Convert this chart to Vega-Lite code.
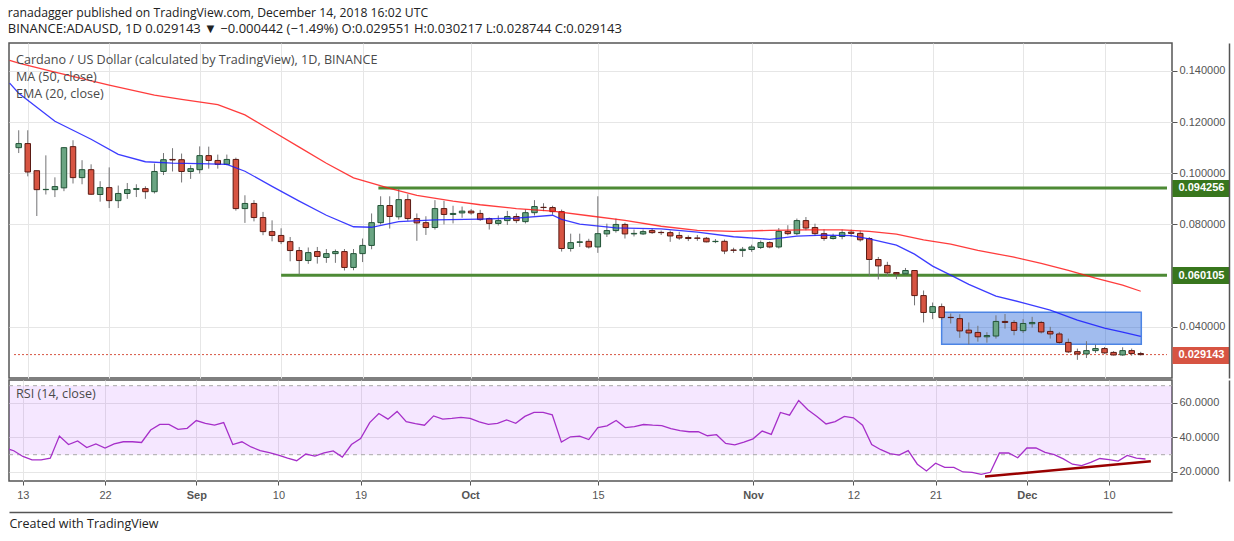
{
  "$schema": "https://vega.github.io/schema/vega-lite/v6.json",
  "padding": {"left": 7, "top": 7, "right": 0, "bottom": 0},
  "background": "white",
  "title": {
    "text": "ranadagger published on TradingView.com, December 14, 2018 16:02 UTC",
    "subtitle": "BINANCE:ADAUSD, 1D  0.029143 ▼ −0.000442 (−1.49%) O:0.029551 H:0.030217 L:0.028744 C:0.029143",
    "anchor": "start",
    "frame": "bounds",
    "offset": 6,
    "font": "Open Sans",
    "fontSize": 12.2,
    "fontWeight": "normal",
    "color": "#222222",
    "subtitleFont": "Open Sans",
    "subtitleFontSize": 13,
    "subtitleColor": "#222222",
    "subtitlePadding": 4
  },
  "spacing": 0,
  "resolve": {"scale": {"x": "independent", "y": "independent"}},
  "config": {
    "font": "Open Sans",
    "view": {"stroke": "#555555", "strokeWidth": 1.5},
    "axis": {"gridColor": "#e6e6e6", "gridWidth": 1}
  },
  "datasets": {
    "candles": [
      {"d": "2018-08-12", "o": 0.1100, "h": 0.1168, "l": 0.1079, "c": 0.1116},
      {"d": "2018-08-13", "o": 0.1116, "h": 0.1168, "l": 0.0988, "c": 0.1005},
      {"d": "2018-08-14", "o": 0.1010, "h": 0.1010, "l": 0.0833, "c": 0.0936},
      {"d": "2018-08-15", "o": 0.0936, "h": 0.1070, "l": 0.0917, "c": 0.0937},
      {"d": "2018-08-16", "o": 0.0936, "h": 0.0984, "l": 0.0907, "c": 0.0948},
      {"d": "2018-08-17", "o": 0.0943, "h": 0.1102, "l": 0.0930, "c": 0.1100},
      {"d": "2018-08-18", "o": 0.1104, "h": 0.1129, "l": 0.0960, "c": 0.0983},
      {"d": "2018-08-19", "o": 0.0983, "h": 0.1051, "l": 0.0957, "c": 0.1014},
      {"d": "2018-08-20", "o": 0.1014, "h": 0.1035, "l": 0.0916, "c": 0.0918},
      {"d": "2018-08-21", "o": 0.0917, "h": 0.0969, "l": 0.0889, "c": 0.0944},
      {"d": "2018-08-22", "o": 0.0944, "h": 0.1023, "l": 0.0864, "c": 0.0893},
      {"d": "2018-08-23", "o": 0.0893, "h": 0.0952, "l": 0.0864, "c": 0.0921},
      {"d": "2018-08-24", "o": 0.0921, "h": 0.0962, "l": 0.0900, "c": 0.0936},
      {"d": "2018-08-25", "o": 0.0937, "h": 0.0957, "l": 0.0907, "c": 0.0940},
      {"d": "2018-08-26", "o": 0.0940, "h": 0.0949, "l": 0.0900, "c": 0.0928},
      {"d": "2018-08-27", "o": 0.0928, "h": 0.1038, "l": 0.0921, "c": 0.1007},
      {"d": "2018-08-28", "o": 0.1007, "h": 0.1079, "l": 0.0993, "c": 0.1053},
      {"d": "2018-08-29", "o": 0.1054, "h": 0.1098, "l": 0.1007, "c": 0.1052},
      {"d": "2018-08-30", "o": 0.1053, "h": 0.1077, "l": 0.0964, "c": 0.1007},
      {"d": "2018-08-31", "o": 0.1007, "h": 0.1031, "l": 0.0978, "c": 0.1018},
      {"d": "2018-09-01", "o": 0.1014, "h": 0.1105, "l": 0.0999, "c": 0.1069},
      {"d": "2018-09-02", "o": 0.1069, "h": 0.1104, "l": 0.1018, "c": 0.1050},
      {"d": "2018-09-03", "o": 0.1050, "h": 0.1073, "l": 0.1018, "c": 0.1035},
      {"d": "2018-09-04", "o": 0.1035, "h": 0.1073, "l": 0.1031, "c": 0.1054},
      {"d": "2018-09-05", "o": 0.1054, "h": 0.1061, "l": 0.0854, "c": 0.0862},
      {"d": "2018-09-06", "o": 0.0862, "h": 0.0914, "l": 0.0806, "c": 0.0882},
      {"d": "2018-09-07", "o": 0.0882, "h": 0.0895, "l": 0.0812, "c": 0.0827},
      {"d": "2018-09-08", "o": 0.0827, "h": 0.0849, "l": 0.0758, "c": 0.0772},
      {"d": "2018-09-09", "o": 0.0772, "h": 0.0816, "l": 0.0734, "c": 0.0757},
      {"d": "2018-09-10", "o": 0.0757, "h": 0.0785, "l": 0.0723, "c": 0.0733},
      {"d": "2018-09-11", "o": 0.0733, "h": 0.0751, "l": 0.0656, "c": 0.0698},
      {"d": "2018-09-12", "o": 0.0698, "h": 0.0712, "l": 0.0604, "c": 0.0659},
      {"d": "2018-09-13", "o": 0.0659, "h": 0.0710, "l": 0.0646, "c": 0.0690},
      {"d": "2018-09-14", "o": 0.0694, "h": 0.0712, "l": 0.0647, "c": 0.0675},
      {"d": "2018-09-15", "o": 0.0671, "h": 0.0704, "l": 0.0650, "c": 0.0686},
      {"d": "2018-09-16", "o": 0.0686, "h": 0.0702, "l": 0.0650, "c": 0.0694},
      {"d": "2018-09-17", "o": 0.0694, "h": 0.0704, "l": 0.0620, "c": 0.0632},
      {"d": "2018-09-18", "o": 0.0632, "h": 0.0704, "l": 0.0621, "c": 0.0686},
      {"d": "2018-09-19", "o": 0.0686, "h": 0.0745, "l": 0.0653, "c": 0.0718},
      {"d": "2018-09-20", "o": 0.0718, "h": 0.0843, "l": 0.0703, "c": 0.0807},
      {"d": "2018-09-21", "o": 0.0807, "h": 0.0910, "l": 0.0800, "c": 0.0874},
      {"d": "2018-09-22", "o": 0.0874, "h": 0.0910, "l": 0.0784, "c": 0.0831},
      {"d": "2018-09-23", "o": 0.0830, "h": 0.0940, "l": 0.0819, "c": 0.0897},
      {"d": "2018-09-24", "o": 0.0897, "h": 0.0918, "l": 0.0814, "c": 0.0823},
      {"d": "2018-09-25", "o": 0.0823, "h": 0.0843, "l": 0.0736, "c": 0.0806},
      {"d": "2018-09-26", "o": 0.0807, "h": 0.0832, "l": 0.0759, "c": 0.0788},
      {"d": "2018-09-27", "o": 0.0788, "h": 0.0895, "l": 0.0780, "c": 0.0862},
      {"d": "2018-09-28", "o": 0.0862, "h": 0.0892, "l": 0.0800, "c": 0.0839},
      {"d": "2018-09-29", "o": 0.0839, "h": 0.0873, "l": 0.0804, "c": 0.0843},
      {"d": "2018-09-30", "o": 0.0845, "h": 0.0870, "l": 0.0826, "c": 0.0852},
      {"d": "2018-10-01", "o": 0.0852, "h": 0.0860, "l": 0.0838, "c": 0.0845},
      {"d": "2018-10-02", "o": 0.0843, "h": 0.0857, "l": 0.0814, "c": 0.0819},
      {"d": "2018-10-03", "o": 0.0823, "h": 0.0827, "l": 0.0780, "c": 0.0804},
      {"d": "2018-10-04", "o": 0.0804, "h": 0.0835, "l": 0.0796, "c": 0.0815},
      {"d": "2018-10-05", "o": 0.0815, "h": 0.0853, "l": 0.0798, "c": 0.0831},
      {"d": "2018-10-06", "o": 0.0831, "h": 0.0843, "l": 0.0805, "c": 0.0815},
      {"d": "2018-10-07", "o": 0.0811, "h": 0.0859, "l": 0.0804, "c": 0.0846},
      {"d": "2018-10-08", "o": 0.0846, "h": 0.0895, "l": 0.0835, "c": 0.0870},
      {"d": "2018-10-09", "o": 0.0867, "h": 0.0883, "l": 0.0852, "c": 0.0866},
      {"d": "2018-10-10", "o": 0.0866, "h": 0.0873, "l": 0.0838, "c": 0.0850},
      {"d": "2018-10-11", "o": 0.0850, "h": 0.0858, "l": 0.0694, "c": 0.0706},
      {"d": "2018-10-12", "o": 0.0706, "h": 0.0764, "l": 0.0694, "c": 0.0729},
      {"d": "2018-10-13", "o": 0.0730, "h": 0.0764, "l": 0.0712, "c": 0.0732},
      {"d": "2018-10-14", "o": 0.0734, "h": 0.0744, "l": 0.0706, "c": 0.0712},
      {"d": "2018-10-15", "o": 0.0712, "h": 0.0910, "l": 0.0689, "c": 0.0764},
      {"d": "2018-10-16", "o": 0.0763, "h": 0.0803, "l": 0.0751, "c": 0.0776},
      {"d": "2018-10-17", "o": 0.0776, "h": 0.0823, "l": 0.0768, "c": 0.0800},
      {"d": "2018-10-18", "o": 0.0800, "h": 0.0807, "l": 0.0745, "c": 0.0763},
      {"d": "2018-10-19", "o": 0.0763, "h": 0.0780, "l": 0.0753, "c": 0.0765},
      {"d": "2018-10-20", "o": 0.0763, "h": 0.0780, "l": 0.0759, "c": 0.0772},
      {"d": "2018-10-21", "o": 0.0776, "h": 0.0784, "l": 0.0763, "c": 0.0768},
      {"d": "2018-10-22", "o": 0.0769, "h": 0.0776, "l": 0.0759, "c": 0.0768},
      {"d": "2018-10-23", "o": 0.0768, "h": 0.0776, "l": 0.0732, "c": 0.0755},
      {"d": "2018-10-24", "o": 0.0757, "h": 0.0771, "l": 0.0740, "c": 0.0747},
      {"d": "2018-10-25", "o": 0.0749, "h": 0.0757, "l": 0.0735, "c": 0.0745},
      {"d": "2018-10-26", "o": 0.0747, "h": 0.0759, "l": 0.0736, "c": 0.0746},
      {"d": "2018-10-27", "o": 0.0746, "h": 0.0751, "l": 0.0730, "c": 0.0732},
      {"d": "2018-10-28", "o": 0.0733, "h": 0.0743, "l": 0.0727, "c": 0.0734},
      {"d": "2018-10-29", "o": 0.0734, "h": 0.0741, "l": 0.0684, "c": 0.0696},
      {"d": "2018-10-30", "o": 0.0700, "h": 0.0709, "l": 0.0689, "c": 0.0699},
      {"d": "2018-10-31", "o": 0.0698, "h": 0.0712, "l": 0.0673, "c": 0.0703},
      {"d": "2018-11-01", "o": 0.0702, "h": 0.0721, "l": 0.0693, "c": 0.0712},
      {"d": "2018-11-02", "o": 0.0710, "h": 0.0737, "l": 0.0704, "c": 0.0729},
      {"d": "2018-11-03", "o": 0.0729, "h": 0.0734, "l": 0.0707, "c": 0.0712},
      {"d": "2018-11-04", "o": 0.0712, "h": 0.0786, "l": 0.0706, "c": 0.0773},
      {"d": "2018-11-05", "o": 0.0773, "h": 0.0797, "l": 0.0758, "c": 0.0764},
      {"d": "2018-11-06", "o": 0.0764, "h": 0.0823, "l": 0.0758, "c": 0.0815},
      {"d": "2018-11-07", "o": 0.0815, "h": 0.0829, "l": 0.0777, "c": 0.0786},
      {"d": "2018-11-08", "o": 0.0788, "h": 0.0803, "l": 0.0755, "c": 0.0764},
      {"d": "2018-11-09", "o": 0.0764, "h": 0.0781, "l": 0.0736, "c": 0.0745},
      {"d": "2018-11-10", "o": 0.0745, "h": 0.0764, "l": 0.0741, "c": 0.0753},
      {"d": "2018-11-11", "o": 0.0753, "h": 0.0780, "l": 0.0742, "c": 0.0768},
      {"d": "2018-11-12", "o": 0.0770, "h": 0.0780, "l": 0.0751, "c": 0.0765},
      {"d": "2018-11-13", "o": 0.0765, "h": 0.0776, "l": 0.0733, "c": 0.0740},
      {"d": "2018-11-14", "o": 0.0745, "h": 0.0751, "l": 0.0598, "c": 0.0663},
      {"d": "2018-11-15", "o": 0.0663, "h": 0.0673, "l": 0.0585, "c": 0.0638},
      {"d": "2018-11-16", "o": 0.0640, "h": 0.0654, "l": 0.0598, "c": 0.0611},
      {"d": "2018-11-17", "o": 0.0612, "h": 0.0614, "l": 0.0586, "c": 0.0607},
      {"d": "2018-11-18", "o": 0.0607, "h": 0.0630, "l": 0.0604, "c": 0.0620},
      {"d": "2018-11-19", "o": 0.0620, "h": 0.0621, "l": 0.0484, "c": 0.0522},
      {"d": "2018-11-20", "o": 0.0522, "h": 0.0542, "l": 0.0417, "c": 0.0456},
      {"d": "2018-11-21", "o": 0.0456, "h": 0.0495, "l": 0.0430, "c": 0.0479},
      {"d": "2018-11-22", "o": 0.0479, "h": 0.0491, "l": 0.0427, "c": 0.0436},
      {"d": "2018-11-23", "o": 0.0437, "h": 0.0452, "l": 0.0413, "c": 0.0436},
      {"d": "2018-11-24", "o": 0.0432, "h": 0.0449, "l": 0.0357, "c": 0.0384},
      {"d": "2018-11-25", "o": 0.0387, "h": 0.0417, "l": 0.0331, "c": 0.0376},
      {"d": "2018-11-26", "o": 0.0378, "h": 0.0404, "l": 0.0342, "c": 0.0361},
      {"d": "2018-11-27", "o": 0.0361, "h": 0.0379, "l": 0.0338, "c": 0.0366},
      {"d": "2018-11-28", "o": 0.0364, "h": 0.0445, "l": 0.0354, "c": 0.0421},
      {"d": "2018-11-29", "o": 0.0421, "h": 0.0450, "l": 0.0393, "c": 0.0417},
      {"d": "2018-11-30", "o": 0.0417, "h": 0.0426, "l": 0.0367, "c": 0.0386},
      {"d": "2018-12-01", "o": 0.0385, "h": 0.0430, "l": 0.0376, "c": 0.0413},
      {"d": "2018-12-02", "o": 0.0412, "h": 0.0439, "l": 0.0397, "c": 0.0417},
      {"d": "2018-12-03", "o": 0.0417, "h": 0.0423, "l": 0.0374, "c": 0.0380},
      {"d": "2018-12-04", "o": 0.0382, "h": 0.0400, "l": 0.0354, "c": 0.0372},
      {"d": "2018-12-05", "o": 0.0372, "h": 0.0380, "l": 0.0334, "c": 0.0339},
      {"d": "2018-12-06", "o": 0.0339, "h": 0.0354, "l": 0.0298, "c": 0.0302},
      {"d": "2018-12-07", "o": 0.0303, "h": 0.0315, "l": 0.0271, "c": 0.0294},
      {"d": "2018-12-08", "o": 0.0294, "h": 0.0344, "l": 0.0278, "c": 0.0307},
      {"d": "2018-12-09", "o": 0.0307, "h": 0.0331, "l": 0.0298, "c": 0.0315},
      {"d": "2018-12-10", "o": 0.0315, "h": 0.0321, "l": 0.0295, "c": 0.0298},
      {"d": "2018-12-11", "o": 0.0300, "h": 0.0305, "l": 0.0288, "c": 0.0290},
      {"d": "2018-12-12", "o": 0.0290, "h": 0.0320, "l": 0.0287, "c": 0.0307},
      {"d": "2018-12-13", "o": 0.0307, "h": 0.0315, "l": 0.0287, "c": 0.02955},
      {"d": "2018-12-14", "o": 0.029551, "h": 0.030217, "l": 0.028744, "c": 0.029143}
    ],
    "ma50": [
      {"d": "2018-08-11", "p": 0.1441},
      {"d": "2018-08-12", "p": 0.1430},
      {"d": "2018-08-16", "p": 0.1395},
      {"d": "2018-08-22", "p": 0.1344},
      {"d": "2018-08-27", "p": 0.1305},
      {"d": "2018-08-30", "p": 0.1289},
      {"d": "2018-09-03", "p": 0.1268},
      {"d": "2018-09-06", "p": 0.1228},
      {"d": "2018-09-09", "p": 0.1165},
      {"d": "2018-09-12", "p": 0.1102},
      {"d": "2018-09-15", "p": 0.1039},
      {"d": "2018-09-18", "p": 0.0982},
      {"d": "2018-09-22", "p": 0.0941},
      {"d": "2018-09-25", "p": 0.0914},
      {"d": "2018-09-29", "p": 0.0891},
      {"d": "2018-10-02", "p": 0.0877},
      {"d": "2018-10-06", "p": 0.0862},
      {"d": "2018-10-10", "p": 0.0852},
      {"d": "2018-10-14", "p": 0.0834},
      {"d": "2018-10-18", "p": 0.0816},
      {"d": "2018-10-22", "p": 0.0793},
      {"d": "2018-10-26", "p": 0.0777},
      {"d": "2018-10-30", "p": 0.0773},
      {"d": "2018-11-03", "p": 0.0777},
      {"d": "2018-11-07", "p": 0.0779},
      {"d": "2018-11-11", "p": 0.0779},
      {"d": "2018-11-14", "p": 0.0773},
      {"d": "2018-11-17", "p": 0.0762},
      {"d": "2018-11-20", "p": 0.0740},
      {"d": "2018-11-23", "p": 0.0723},
      {"d": "2018-11-26", "p": 0.0699},
      {"d": "2018-11-30", "p": 0.0672},
      {"d": "2018-12-03", "p": 0.0648},
      {"d": "2018-12-06", "p": 0.0621},
      {"d": "2018-12-09", "p": 0.0590},
      {"d": "2018-12-12", "p": 0.0563},
      {"d": "2018-12-14", "p": 0.0539}
    ],
    "ema20": [
      {"d": "2018-08-11", "p": 0.1352},
      {"d": "2018-08-12", "p": 0.1313},
      {"d": "2018-08-14", "p": 0.1258},
      {"d": "2018-08-16", "p": 0.1203},
      {"d": "2018-08-18", "p": 0.1168},
      {"d": "2018-08-20", "p": 0.1133},
      {"d": "2018-08-23", "p": 0.1074},
      {"d": "2018-08-26", "p": 0.1045},
      {"d": "2018-08-29", "p": 0.1040},
      {"d": "2018-09-01", "p": 0.1038},
      {"d": "2018-09-04", "p": 0.1035},
      {"d": "2018-09-06", "p": 0.1008},
      {"d": "2018-09-09", "p": 0.0949},
      {"d": "2018-09-12", "p": 0.0891},
      {"d": "2018-09-15", "p": 0.0836},
      {"d": "2018-09-18", "p": 0.0791},
      {"d": "2018-09-20", "p": 0.0789},
      {"d": "2018-09-23", "p": 0.0811},
      {"d": "2018-09-27", "p": 0.0818},
      {"d": "2018-10-02", "p": 0.0821},
      {"d": "2018-10-06", "p": 0.0825},
      {"d": "2018-10-10", "p": 0.0836},
      {"d": "2018-10-11", "p": 0.0820},
      {"d": "2018-10-13", "p": 0.0801},
      {"d": "2018-10-17", "p": 0.0787},
      {"d": "2018-10-22", "p": 0.0783},
      {"d": "2018-10-26", "p": 0.0770},
      {"d": "2018-10-30", "p": 0.0752},
      {"d": "2018-11-03", "p": 0.0742},
      {"d": "2018-11-06", "p": 0.0754},
      {"d": "2018-11-09", "p": 0.0758},
      {"d": "2018-11-12", "p": 0.0756},
      {"d": "2018-11-14", "p": 0.0744},
      {"d": "2018-11-17", "p": 0.0719},
      {"d": "2018-11-19", "p": 0.0684},
      {"d": "2018-11-21", "p": 0.0637},
      {"d": "2018-11-23", "p": 0.0602},
      {"d": "2018-11-25", "p": 0.0566},
      {"d": "2018-11-28", "p": 0.0520},
      {"d": "2018-12-01", "p": 0.0494},
      {"d": "2018-12-04", "p": 0.0465},
      {"d": "2018-12-07", "p": 0.0426},
      {"d": "2018-12-10", "p": 0.0395},
      {"d": "2018-12-12", "p": 0.0379},
      {"d": "2018-12-14", "p": 0.0363}
    ],
    "levels": [
      {"d": "2018-09-20T18:00:00Z", "d2": "2018-12-16T21:40:00Z", "p": 0.094256},
      {"d": "2018-09-10T00:00:00Z", "d2": "2018-12-16T21:40:00Z", "p": 0.060105}
    ],
    "lastPrice": [
      {"d": "2018-08-11T11:30:00Z", "d2": "2018-12-16T21:40:00Z", "p": 0.029143}
    ],
    "range": [
      {"d": "2018-11-22T00:00:00Z", "d2": "2018-12-14T01:30:00Z", "p": 0.0457, "p2": 0.0332}
    ],
    "rsi": [
      {"d": "2018-08-11", "v": 34}, {"d": "2018-08-12", "v": 32.3}, {"d": "2018-08-13", "v": 29},
      {"d": "2018-08-14", "v": 27}, {"d": "2018-08-15", "v": 27}, {"d": "2018-08-16", "v": 28},
      {"d": "2018-08-17", "v": 40.8}, {"d": "2018-08-18", "v": 35.9}, {"d": "2018-08-19", "v": 38},
      {"d": "2018-08-20", "v": 34.1}, {"d": "2018-08-21", "v": 36.3}, {"d": "2018-08-22", "v": 33.9},
      {"d": "2018-08-23", "v": 36.3}, {"d": "2018-08-24", "v": 37.5}, {"d": "2018-08-25", "v": 37.5},
      {"d": "2018-08-26", "v": 37.1}, {"d": "2018-08-27", "v": 44.3}, {"d": "2018-08-28", "v": 47.6},
      {"d": "2018-08-29", "v": 47.6}, {"d": "2018-08-30", "v": 44.7}, {"d": "2018-08-31", "v": 45.3},
      {"d": "2018-09-01", "v": 49.8}, {"d": "2018-09-02", "v": 48.2}, {"d": "2018-09-03", "v": 47.1},
      {"d": "2018-09-04", "v": 48.6}, {"d": "2018-09-05", "v": 35.9}, {"d": "2018-09-06", "v": 37.5},
      {"d": "2018-09-07", "v": 34.5}, {"d": "2018-09-08", "v": 32.4}, {"d": "2018-09-09", "v": 31.2},
      {"d": "2018-09-10", "v": 29.8}, {"d": "2018-09-11", "v": 28}, {"d": "2018-09-12", "v": 26.5},
      {"d": "2018-09-13", "v": 30.4}, {"d": "2018-09-14", "v": 29.2}, {"d": "2018-09-15", "v": 31},
      {"d": "2018-09-16", "v": 32.2}, {"d": "2018-09-17", "v": 28.6}, {"d": "2018-09-18", "v": 35.9},
      {"d": "2018-09-19", "v": 39.4}, {"d": "2018-09-20", "v": 48.6}, {"d": "2018-09-21", "v": 53.9},
      {"d": "2018-09-22", "v": 50.6}, {"d": "2018-09-23", "v": 55.1}, {"d": "2018-09-24", "v": 49.2},
      {"d": "2018-09-25", "v": 48}, {"d": "2018-09-26", "v": 47.1}, {"d": "2018-09-27", "v": 52.5},
      {"d": "2018-09-28", "v": 50.6}, {"d": "2018-09-29", "v": 51}, {"d": "2018-09-30", "v": 51.6},
      {"d": "2018-10-01", "v": 51}, {"d": "2018-10-02", "v": 49}, {"d": "2018-10-03", "v": 47.6},
      {"d": "2018-10-04", "v": 48.2}, {"d": "2018-10-05", "v": 50.2}, {"d": "2018-10-06", "v": 48.2},
      {"d": "2018-10-07", "v": 52.2}, {"d": "2018-10-08", "v": 54.5}, {"d": "2018-10-09", "v": 54.5},
      {"d": "2018-10-10", "v": 53.1}, {"d": "2018-10-11", "v": 37.3}, {"d": "2018-10-12", "v": 40.4},
      {"d": "2018-10-13", "v": 40.8}, {"d": "2018-10-14", "v": 38.8}, {"d": "2018-10-15", "v": 45.7},
      {"d": "2018-10-16", "v": 46.7}, {"d": "2018-10-17", "v": 49.8}, {"d": "2018-10-18", "v": 45.7},
      {"d": "2018-10-19", "v": 46.3}, {"d": "2018-10-20", "v": 47.5}, {"d": "2018-10-21", "v": 47.1},
      {"d": "2018-10-22", "v": 46.9}, {"d": "2018-10-23", "v": 45.1}, {"d": "2018-10-24", "v": 43.9},
      {"d": "2018-10-25", "v": 43.3}, {"d": "2018-10-26", "v": 43.3}, {"d": "2018-10-27", "v": 41},
      {"d": "2018-10-28", "v": 41.6}, {"d": "2018-10-29", "v": 36.5}, {"d": "2018-10-30", "v": 35.7},
      {"d": "2018-10-31", "v": 37.3}, {"d": "2018-11-01", "v": 39.2}, {"d": "2018-11-02", "v": 43.7},
      {"d": "2018-11-03", "v": 41.8}, {"d": "2018-11-04", "v": 54.5}, {"d": "2018-11-05", "v": 52.9},
      {"d": "2018-11-06", "v": 61.4}, {"d": "2018-11-07", "v": 56.1}, {"d": "2018-11-08", "v": 52.2},
      {"d": "2018-11-09", "v": 47.8}, {"d": "2018-11-10", "v": 49.2}, {"d": "2018-11-11", "v": 52.2},
      {"d": "2018-11-12", "v": 51.4}, {"d": "2018-11-13", "v": 47.1}, {"d": "2018-11-14", "v": 35.9},
      {"d": "2018-11-15", "v": 32.9}, {"d": "2018-11-16", "v": 30.6}, {"d": "2018-11-17", "v": 29.8},
      {"d": "2018-11-18", "v": 32.4}, {"d": "2018-11-19", "v": 24.5}, {"d": "2018-11-20", "v": 20.6},
      {"d": "2018-11-21", "v": 25.1}, {"d": "2018-11-22", "v": 22.7}, {"d": "2018-11-23", "v": 22.7},
      {"d": "2018-11-24", "v": 20}, {"d": "2018-11-25", "v": 19.8}, {"d": "2018-11-26", "v": 18.6},
      {"d": "2018-11-27", "v": 19.8}, {"d": "2018-11-28", "v": 31}, {"d": "2018-11-29", "v": 31},
      {"d": "2018-11-30", "v": 28.2}, {"d": "2018-12-01", "v": 33.9}, {"d": "2018-12-02", "v": 33.9},
      {"d": "2018-12-03", "v": 31.4}, {"d": "2018-12-04", "v": 30}, {"d": "2018-12-05", "v": 27.6},
      {"d": "2018-12-06", "v": 24.5}, {"d": "2018-12-07", "v": 23.7}, {"d": "2018-12-08", "v": 25.5},
      {"d": "2018-12-09", "v": 27.8}, {"d": "2018-12-10", "v": 27.1}, {"d": "2018-12-11", "v": 26.3},
      {"d": "2018-12-12", "v": 29.6}, {"d": "2018-12-13", "v": 28}, {"d": "2018-12-14", "v": 27.5}
    ],
    "rsiBand": [
      {"d": "2018-08-11T11:30:00Z", "d2": "2018-12-16T21:40:00Z", "v": 70, "v2": 30}
    ],
    "rsiLevels": [
      {"d": "2018-08-11T11:30:00Z", "d2": "2018-12-16T21:40:00Z", "v": 70},
      {"d": "2018-08-11T11:30:00Z", "d2": "2018-12-16T21:40:00Z", "v": 30}
    ],
    "rsiTrend": [
      {"d": "2018-11-26T10:00:00Z", "v": 17.3},
      {"d": "2018-12-14T14:00:00Z", "v": 26.2}
    ]
  },
  "vconcat": [
    {
      "width": 1163,
      "height": 335,
      "title": {
        "text": ["Cardano / US Dollar (calculated by TradingView), 1D, BINANCE", "MA (50, close)", "EMA (20, close)"],
        "anchor": "start",
        "frame": "group",
        "offset": -58,
        "dx": 7,
        "font": "Open Sans",
        "fontSize": 12.6,
        "fontWeight": "normal",
        "color": "#4a4a4a",
        "lineHeight": 17
      },
      "resolve": {"axis": {"y": "independent"}},
      "encoding": {
        "x": {
          "field": "d",
          "type": "temporal",
          "scale": {
            "type": "utc",
            "domain": [
              {"year": 2018, "month": 8, "date": 11, "hours": 11, "minutes": 30, "utc": true},
              {"year": 2018, "month": 12, "date": 16, "hours": 21, "minutes": 40, "utc": true}
            ]
          },
          "axis": {
            "orient": "bottom",
            "title": null,
            "labels": false,
            "ticks": false,
            "domain": false,
            "grid": true,
            "values": [
              {"year": 2018, "month": 8, "date": 13, "utc": true},
              {"year": 2018, "month": 8, "date": 22, "utc": true},
              {"year": 2018, "month": 9, "date": 1, "utc": true},
              {"year": 2018, "month": 9, "date": 10, "utc": true},
              {"year": 2018, "month": 9, "date": 19, "utc": true},
              {"year": 2018, "month": 10, "date": 1, "utc": true},
              {"year": 2018, "month": 10, "date": 15, "utc": true},
              {"year": 2018, "month": 11, "date": 1, "utc": true},
              {"year": 2018, "month": 11, "date": 12, "utc": true},
              {"year": 2018, "month": 11, "date": 21, "utc": true},
              {"year": 2018, "month": 12, "date": 1, "utc": true},
              {"year": 2018, "month": 12, "date": 10, "utc": true}
            ]
          }
        },
        "y": {
          "field": "p",
          "type": "quantitative",
          "scale": {"domain": [0.0200, 0.1509], "nice": false, "zero": false},
          "axis": null
        }
      },
      "layer": [
        {
          "data": {"name": "range"},
          "mark": {"type": "rect", "fill": "#1e5fd6", "fillOpacity": 0.42, "stroke": "#4c84e4", "strokeWidth": 1.5},
          "encoding": {
            "y": {
              "field": "p",
              "type": "quantitative",
              "scale": {"domain": [0.0200, 0.1509], "nice": false, "zero": false},
              "axis": {
                "orient": "right",
                "title": null,
                "domain": false,
                "grid": true,
                "values": [0.14, 0.12, 0.1, 0.08, 0.04],
                "format": ".6f",
                "labelFont": "Liberation Sans",
                "labelFontSize": 11,
                "labelColor": "#555555",
                "labelPadding": 2,
                "tickSize": 5,
                "tickColor": "#555555"
              }
            },
            "x2": {"field": "d2"},
            "y2": {"field": "p2"}
          }
        },
        {
          "data": {"name": "levels"},
          "mark": {"type": "rule", "color": "#4d8a35", "strokeWidth": 3},
          "encoding": {
            "y": {
              "field": "p",
              "type": "quantitative",
              "scale": {"domain": [0.0200, 0.1509], "nice": false, "zero": false},
              "axis": {
                "orient": "right",
                "title": null,
                "domain": false,
                "grid": false,
                "values": [0.094256, 0.060105, 0.029143],
                "format": ".6f",
                "labelFont": "Liberation Sans",
                "labelFontSize": 11,
                "labelFontWeight": "bold",
                "labelColor": "#ffffff",
                "labelOverlap": false,
                "labelBound": false,
                "labelPadding": -51,
                "tickSize": 57,
                "tickWidth": 17,
                "tickColor": {"condition": {"test": "datum.value < 0.03", "value": "#d75442"}, "value": "#38761d"}
              }
            },
            "x2": {"field": "d2"}
          }
        },
        {
          "data": {"name": "lastPrice"},
          "mark": {"type": "rule", "color": "#d75442", "strokeWidth": 1, "strokeDash": [2, 2]},
          "encoding": {
            "y": {
              "field": "p",
              "type": "quantitative",
              "scale": {"domain": [0.0200, 0.1509], "nice": false, "zero": false},
              "axis": {
                "orient": "right",
                "title": null,
                "offset": 57,
                "domain": true,
                "domainColor": "#555555",
                "domainWidth": 1.5,
                "grid": false,
                "ticks": false,
                "labels": false,
                "values": []
              }
            },
            "x2": {"field": "d2"}
          }
        },
        {
          "data": {"name": "candles"},
          "mark": {"type": "rule", "color": "#737375", "strokeWidth": 1, "clip": true},
          "encoding": {
            "y": {"field": "l", "type": "quantitative", "axis": null},
            "y2": {"field": "h"}
          }
        },
        {
          "data": {"name": "candles"},
          "mark": {"type": "bar", "width": 5.5, "strokeWidth": 1, "clip": true},
          "encoding": {
            "y": {"field": "o", "type": "quantitative", "axis": null},
            "y2": {"field": "c"},
            "fill": {"condition": {"test": "datum.c >= datum.o", "value": "#6ba583"}, "value": "#d75442"},
            "stroke": {"condition": {"test": "datum.c >= datum.o", "value": "#225437"}, "value": "#5b1a13"}
          }
        },
        {
          "data": {"name": "ma50"},
          "mark": {"type": "line", "color": "#ff1a1a", "strokeWidth": 1.3, "clip": true, "opacity": 0.85},
          "encoding": {}
        },
        {
          "data": {"name": "ema20"},
          "mark": {"type": "line", "color": "#1a1aff", "strokeWidth": 1.3, "clip": true, "opacity": 0.85},
          "encoding": {}
        }
      ]
    },
    {
      "width": 1163,
      "height": 101,
      "title": {
        "text": "RSI (14, close)",
        "anchor": "start",
        "frame": "group",
        "offset": -21,
        "dx": 7,
        "font": "Open Sans",
        "fontSize": 12.6,
        "fontWeight": "normal",
        "color": "#4a4a4a"
      },
      "resolve": {"axis": {"x": "independent", "y": "independent"}},
      "encoding": {
        "x": {
          "field": "d",
          "type": "temporal",
          "scale": {
            "type": "utc",
            "domain": [
              {"year": 2018, "month": 8, "date": 11, "hours": 11, "minutes": 30, "utc": true},
              {"year": 2018, "month": 12, "date": 16, "hours": 21, "minutes": 40, "utc": true}
            ]
          },
          "axis": null
        },
        "y": {
          "field": "v",
          "type": "quantitative",
          "scale": {"domain": [14.76, 73.3], "nice": false, "zero": false},
          "axis": null
        }
      },
      "layer": [
        {
          "data": {"name": "rsiBand"},
          "mark": {"type": "rect", "fill": "#9915ff", "fillOpacity": 0.1},
          "encoding": {
            "x": {
              "field": "d",
              "type": "temporal",
              "scale": {
                "type": "utc",
                "domain": [
                  {"year": 2018, "month": 8, "date": 11, "hours": 11, "minutes": 30, "utc": true},
                  {"year": 2018, "month": 12, "date": 16, "hours": 21, "minutes": 40, "utc": true}
                ]
              },
              "axis": {
                "orient": "bottom",
                "grid": true,
                "domain": false,
                "ticks": true,
                "tickSize": 4,
                "tickColor": "#555555",
                "labelPadding": 4,
                "labelFont": "Liberation Sans",
                "labelFontSize": 11,
                "labelColor": "#555555",
                "labelFontWeight": {"condition": {"test": "utcdate(datum.value) == 1", "value": "bold"}, "value": "normal"},
                "labelExpr": "utcdate(datum.value) == 1 ? utcFormat(datum.value, '%b') : utcFormat(datum.value, '%-d')",
                "values": [
                  {"year": 2018, "month": 8, "date": 13, "utc": true},
                  {"year": 2018, "month": 8, "date": 22, "utc": true},
                  {"year": 2018, "month": 9, "date": 1, "utc": true},
                  {"year": 2018, "month": 9, "date": 10, "utc": true},
                  {"year": 2018, "month": 9, "date": 19, "utc": true},
                  {"year": 2018, "month": 10, "date": 1, "utc": true},
                  {"year": 2018, "month": 10, "date": 15, "utc": true},
                  {"year": 2018, "month": 11, "date": 1, "utc": true},
                  {"year": 2018, "month": 11, "date": 12, "utc": true},
                  {"year": 2018, "month": 11, "date": 21, "utc": true},
                  {"year": 2018, "month": 12, "date": 1, "utc": true},
                  {"year": 2018, "month": 12, "date": 10, "utc": true}
                ],
                "title": "Created with TradingView",
                "titleAnchor": "start",
                "titleAlign": "left",
                "titleX": 0,
                "titleY": 36,
                "titleFont": "Open Sans",
                "titleFontSize": 12.5,
                "titleFontWeight": "normal",
                "titleColor": "#222222"
              }
            },
            "y": {
              "field": "v",
              "type": "quantitative",
              "scale": {"domain": [14.76, 73.3], "nice": false, "zero": false},
              "axis": {
                "orient": "right",
                "title": null,
                "domain": false,
                "values": [20, 40, 60],
                "format": ".4f",
                "labelFont": "Liberation Sans",
                "labelFontSize": 11,
                "labelColor": "#555555",
                "labelPadding": 2,
                "tickSize": 5,
                "tickColor": "#555555"
              }
            },
            "x2": {"field": "d2"},
            "y2": {"field": "v2"}
          }
        },
        {
          "data": {"name": "rsiLevels"},
          "mark": {"type": "rule", "color": "#a8a8a8", "strokeWidth": 1, "strokeDash": [4, 4]},
          "encoding": {
            "y": {
              "field": "v",
              "type": "quantitative",
              "scale": {"domain": [14.76, 73.3], "nice": false, "zero": false},
              "axis": {
                "orient": "right",
                "title": null,
                "offset": 57,
                "domain": true,
                "domainColor": "#555555",
                "domainWidth": 1.5,
                "grid": false,
                "labels": false,
                "ticks": true,
                "values": [-3.21],
                "tickSize": -57,
                "tickWidth": 1.5,
                "tickColor": "#555555"
              }
            },
            "x2": {"field": "d2"}
          }
        },
        {
          "data": {"name": "rsi"},
          "mark": {"type": "line", "color": "#a62fc9", "strokeWidth": 1.3, "clip": true},
          "encoding": {}
        },
        {
          "data": {"name": "rsiTrend"},
          "mark": {"type": "line", "color": "#990000", "strokeWidth": 2.5, "clip": true},
          "encoding": {
            "x": {
              "field": "d",
              "type": "temporal",
              "scale": {
                "type": "utc",
                "domain": [
                  {"year": 2018, "month": 8, "date": 11, "hours": 11, "minutes": 30, "utc": true},
                  {"year": 2018, "month": 12, "date": 16, "hours": 21, "minutes": 40, "utc": true}
                ]
              },
              "axis": {
                "orient": "bottom",
                "title": null,
                "offset": 31,
                "domain": true,
                "domainColor": "#555555",
                "domainWidth": 1.5,
                "grid": false,
                "labels": false,
                "ticks": true,
                "tickSize": -31,
                "tickWidth": 1.5,
                "tickColor": "#555555",
                "values": [{"year": 2018, "month": 12, "date": 23, "hours": 3, "minutes": 30, "utc": true}]
              }
            }
          }
        }
      ]
    }
  ]
}
